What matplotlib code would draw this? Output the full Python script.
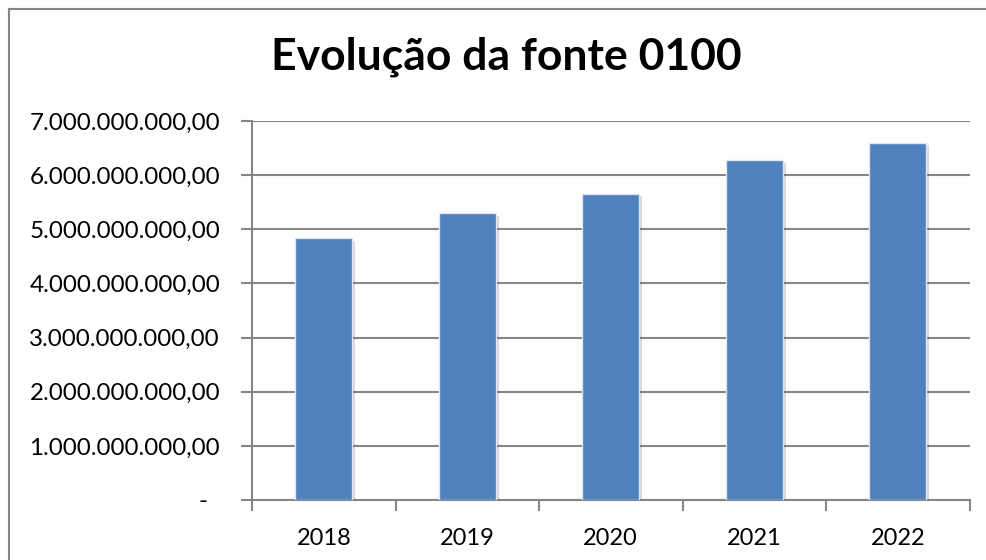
import matplotlib
matplotlib.use("Agg")
import matplotlib.pyplot as plt
import matplotlib.patheffects as pe
from matplotlib.lines import Line2D

years = ["2018", "2019", "2020", "2021", "2022"]
values = [4.84e9, 5.30e9, 5.66e9, 6.28e9, 6.60e9]
yticks = [0, 1e9, 2e9, 3e9, 4e9, 5e9, 6e9, 7e9]
ytick_labels = ["-  ", "1.000.000.000,00", "2.000.000.000,00", "3.000.000.000,00",
                "4.000.000.000,00", "5.000.000.000,00", "6.000.000.000,00",
                "7.000.000.000,00"]
title = "Evolução da fonte 0100"

plt.rcParams['font.family'] = ['Lato', 'DejaVu Sans']

W, H = 986, 560
fig = plt.figure(figsize=(W/100, H/100), dpi=100)
ax = fig.add_axes([252/W, (H-500)/H, (969.5-252)/W, (500-121)/H])

x = list(range(len(years)))
bars = ax.bar(x, values, width=0.4, color="#4F81BD", edgecolor="#DCE6F2",
              linewidth=1.0, zorder=3)
for b in bars:
    b.set_path_effects([pe.SimplePatchShadow(offset=(2, -2), shadow_rgbFace="#000000", alpha=0.15),
                        pe.Normal()])

ax.set_xlim(-0.5, len(years) - 0.5)
ax.set_ylim(0, 7e9)
ax.set_yticks(yticks)
ax.set_yticklabels(ytick_labels)
ax.yaxis.grid(True, color="#868686", linewidth=1.5, zorder=0)
ax.set_axisbelow(True)

ax.set_xticks([i - 0.5 for i in range(len(years) + 1)])
ax.set_xticklabels([])
ax.set_xticks(x, minor=True)
ax.set_xticklabels(years, minor=True)
ax.tick_params(axis='x', which='minor', length=0, pad=20, labelsize=17)
ax.tick_params(axis='x', which='major', length=8, width=1.5, color="#868686", direction='out')
ax.tick_params(axis='y', length=8, width=1.5, color="#868686", direction='out', pad=15, labelsize=17.4)

for s in ['top', 'right']:
    ax.spines[s].set_visible(False)
for s in ['left', 'bottom']:
    ax.spines[s].set_color("#868686")
    ax.spines[s].set_linewidth(1.5)

fig.text(506/W, 1 - 57/H, title, ha='center', va='center', fontsize=32, fontweight='bold')

# chart border
fig.add_artist(Line2D([9/W, 9/W], [0, 1 - 9/H], color="#868686", linewidth=1.5))
fig.add_artist(Line2D([9/W, 1], [1 - 9/H, 1 - 9/H], color="#868686", linewidth=1.5))

fig.savefig("out.png", dpi=100)
